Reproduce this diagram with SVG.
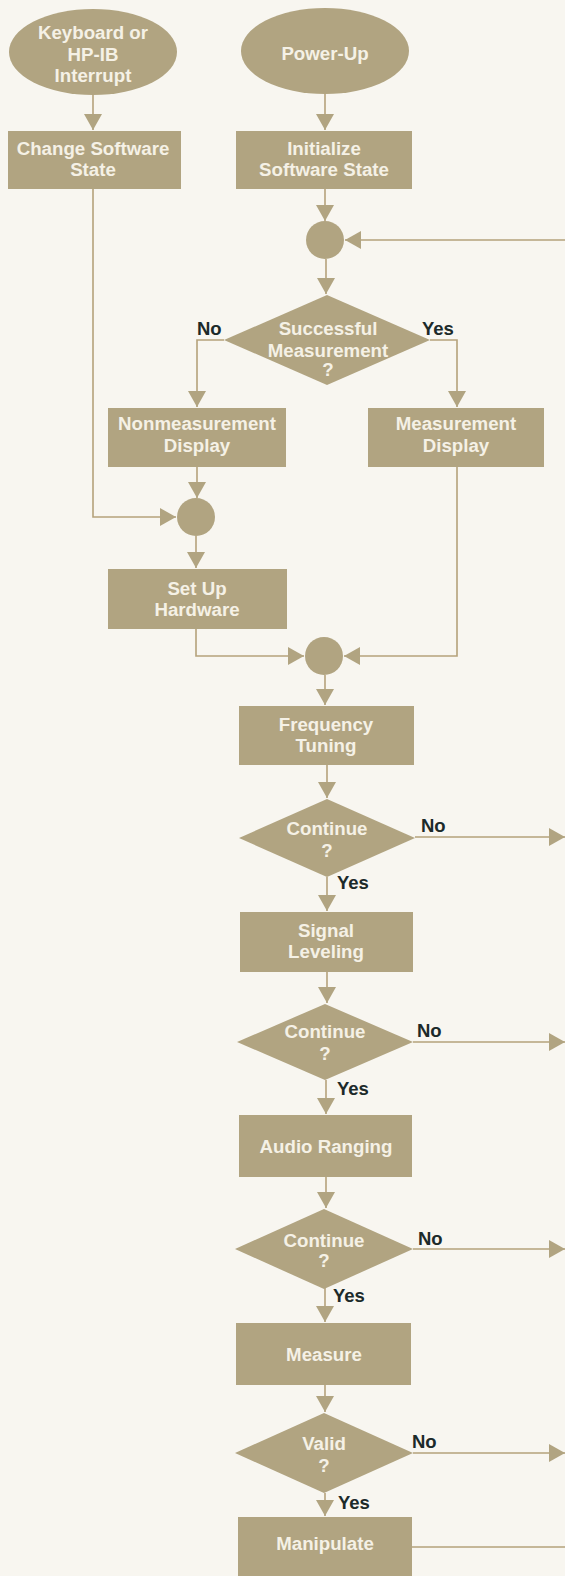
<svg xmlns="http://www.w3.org/2000/svg" width="565" height="1576" viewBox="0 0 565 1576">
<defs>
<style>
.n{fill:#b1a481}
.t{font-family:"Liberation Sans",Arial,sans-serif;font-weight:bold;font-size:18.7px;fill:#f5f1e6;text-anchor:middle}
.l{font-family:"Liberation Sans",Arial,sans-serif;font-weight:bold;font-size:18.5px;fill:#1c2a2a}
.c{fill:none;stroke:#b5a27b;stroke-width:1.6}
.a{marker-end:url(#ah)}
</style>
<marker id="ah" viewBox="0 0 16 18" refX="16" refY="9" markerWidth="16" markerHeight="18" markerUnits="userSpaceOnUse" orient="auto">
<path d="M0,0 L16,9 L0,18 Z" fill="#b1a481"/>
</marker>
</defs>
<rect x="0" y="0" width="565" height="1576" fill="#f8f6f0"/>
<g id="connectors">
<path class="c a" d="M93,95 V130"/>
<path class="c a" d="M325,94 V130"/>
<path class="c a" d="M325,189 V221"/>
<path class="c a" d="M565,240 H345"/>
<path class="c a" d="M326,259 V294"/>
<path class="c a" d="M224,340 H197 V407"/>
<path class="c a" d="M430,340 H457 V407"/>
<path class="c a" d="M93,189 V517 H176"/>
<path class="c a" d="M197,467 V498"/>
<path class="c a" d="M196,536 V568"/>
<path class="c a" d="M196,629 V656 H304"/>
<path class="c a" d="M457,467 V656 H344"/>
<path class="c a" d="M325,675 V705"/>
<path class="c a" d="M327,765 V798"/>
<path class="c a" d="M415,837 H565"/>
<path class="c a" d="M327,877 V911"/>
<path class="c a" d="M327,972 V1003"/>
<path class="c a" d="M413,1042 H565"/>
<path class="c a" d="M326,1080 V1114"/>
<path class="c a" d="M326,1177 V1208"/>
<path class="c a" d="M413,1249 H565"/>
<path class="c a" d="M325,1288 V1322"/>
<path class="c a" d="M325,1385 V1412"/>
<path class="c a" d="M413,1453 H565"/>
<path class="c a" d="M325,1493 V1516"/>
<path class="c" d="M412,1547 H565"/>
<text class="l" x="197" y="335">No</text>
<text class="l" x="422" y="335">Yes</text>
<text class="l" x="421" y="832">No</text>
<text class="l" x="337" y="889">Yes</text>
<text class="l" x="417" y="1037">No</text>
<text class="l" x="337" y="1095">Yes</text>
<text class="l" x="418" y="1245">No</text>
<text class="l" x="333" y="1302">Yes</text>
<text class="l" x="412" y="1448">No</text>
<text class="l" x="338" y="1509">Yes</text>
</g>
<g id="keyboard">
<ellipse class="n" cx="93" cy="52" rx="84" ry="43"/>
<text class="t" x="93" y="39">Keyboard or</text>
<text class="t" x="93" y="60.5">HP-IB</text>
<text class="t" x="93" y="82">Interrupt</text>
</g>
<g id="powerup">
<ellipse class="n" cx="325" cy="51" rx="84" ry="43"/>
<text class="t" x="325" y="60">Power-Up</text>
</g>
<g id="change">
<rect class="n" x="8" y="131" width="173" height="58"/>
<text class="t" x="93" y="155">Change Software</text>
<text class="t" x="93" y="176">State</text>
</g>
<g id="init">
<rect class="n" x="236" y="131" width="176" height="58"/>
<text class="t" x="324" y="155">Initialize</text>
<text class="t" x="324" y="176">Software State</text>
</g>
<g id="j1"><circle class="n" cx="325" cy="240" r="19"/></g>
<g id="successful">
<polygon class="n" points="327,295 430,340 327,385 224,340"/>
<text class="t" x="328" y="335">Successful</text>
<text class="t" x="328" y="357">Measurement</text>
<text class="t" x="328" y="376">?</text>
</g>
<g id="nonmeas">
<rect class="n" x="108" y="408" width="178" height="59"/>
<text class="t" x="197" y="430">Nonmeasurement</text>
<text class="t" x="197" y="452">Display</text>
</g>
<g id="measdisp">
<rect class="n" x="368" y="408" width="176" height="59"/>
<text class="t" x="456" y="430">Measurement</text>
<text class="t" x="456" y="452">Display</text>
</g>
<g id="j2"><circle class="n" cx="196" cy="517" r="19"/></g>
<g id="setup">
<rect class="n" x="108" y="569" width="179" height="60"/>
<text class="t" x="197" y="595">Set Up</text>
<text class="t" x="197" y="616">Hardware</text>
</g>
<g id="j3"><circle class="n" cx="324" cy="656" r="19"/></g>
<g id="freq">
<rect class="n" x="239" y="706" width="175" height="59"/>
<text class="t" x="326" y="731">Frequency</text>
<text class="t" x="326" y="752">Tuning</text>
</g>
<g id="cont1">
<polygon class="n" points="327,799 415,838 327,877 239,838"/>
<text class="t" x="327" y="835">Continue</text>
<text class="t" x="327" y="857">?</text>
</g>
<g id="signal">
<rect class="n" x="240" y="912" width="173" height="60"/>
<text class="t" x="326" y="937">Signal</text>
<text class="t" x="326" y="958">Leveling</text>
</g>
<g id="cont2">
<polygon class="n" points="325,1004 413,1042 325,1080 237,1042"/>
<text class="t" x="325" y="1038">Continue</text>
<text class="t" x="325" y="1060">?</text>
</g>
<g id="audio">
<rect class="n" x="239" y="1115" width="173" height="62"/>
<text class="t" x="326" y="1153">Audio Ranging</text>
</g>
<g id="cont3">
<polygon class="n" points="324,1209 413,1249 324,1289 235,1249"/>
<text class="t" x="324" y="1247">Continue</text>
<text class="t" x="324" y="1267">?</text>
</g>
<g id="measure">
<rect class="n" x="236" y="1323" width="175" height="62"/>
<text class="t" x="324" y="1361">Measure</text>
</g>
<g id="valid">
<polygon class="n" points="324,1413 413,1453 324,1493 235,1453"/>
<text class="t" x="324" y="1450">Valid</text>
<text class="t" x="324" y="1472">?</text>
</g>
<g id="manipulate">
<rect class="n" x="238" y="1517" width="174" height="70"/>
<text class="t" x="325" y="1550">Manipulate</text>
</g>
</svg>
